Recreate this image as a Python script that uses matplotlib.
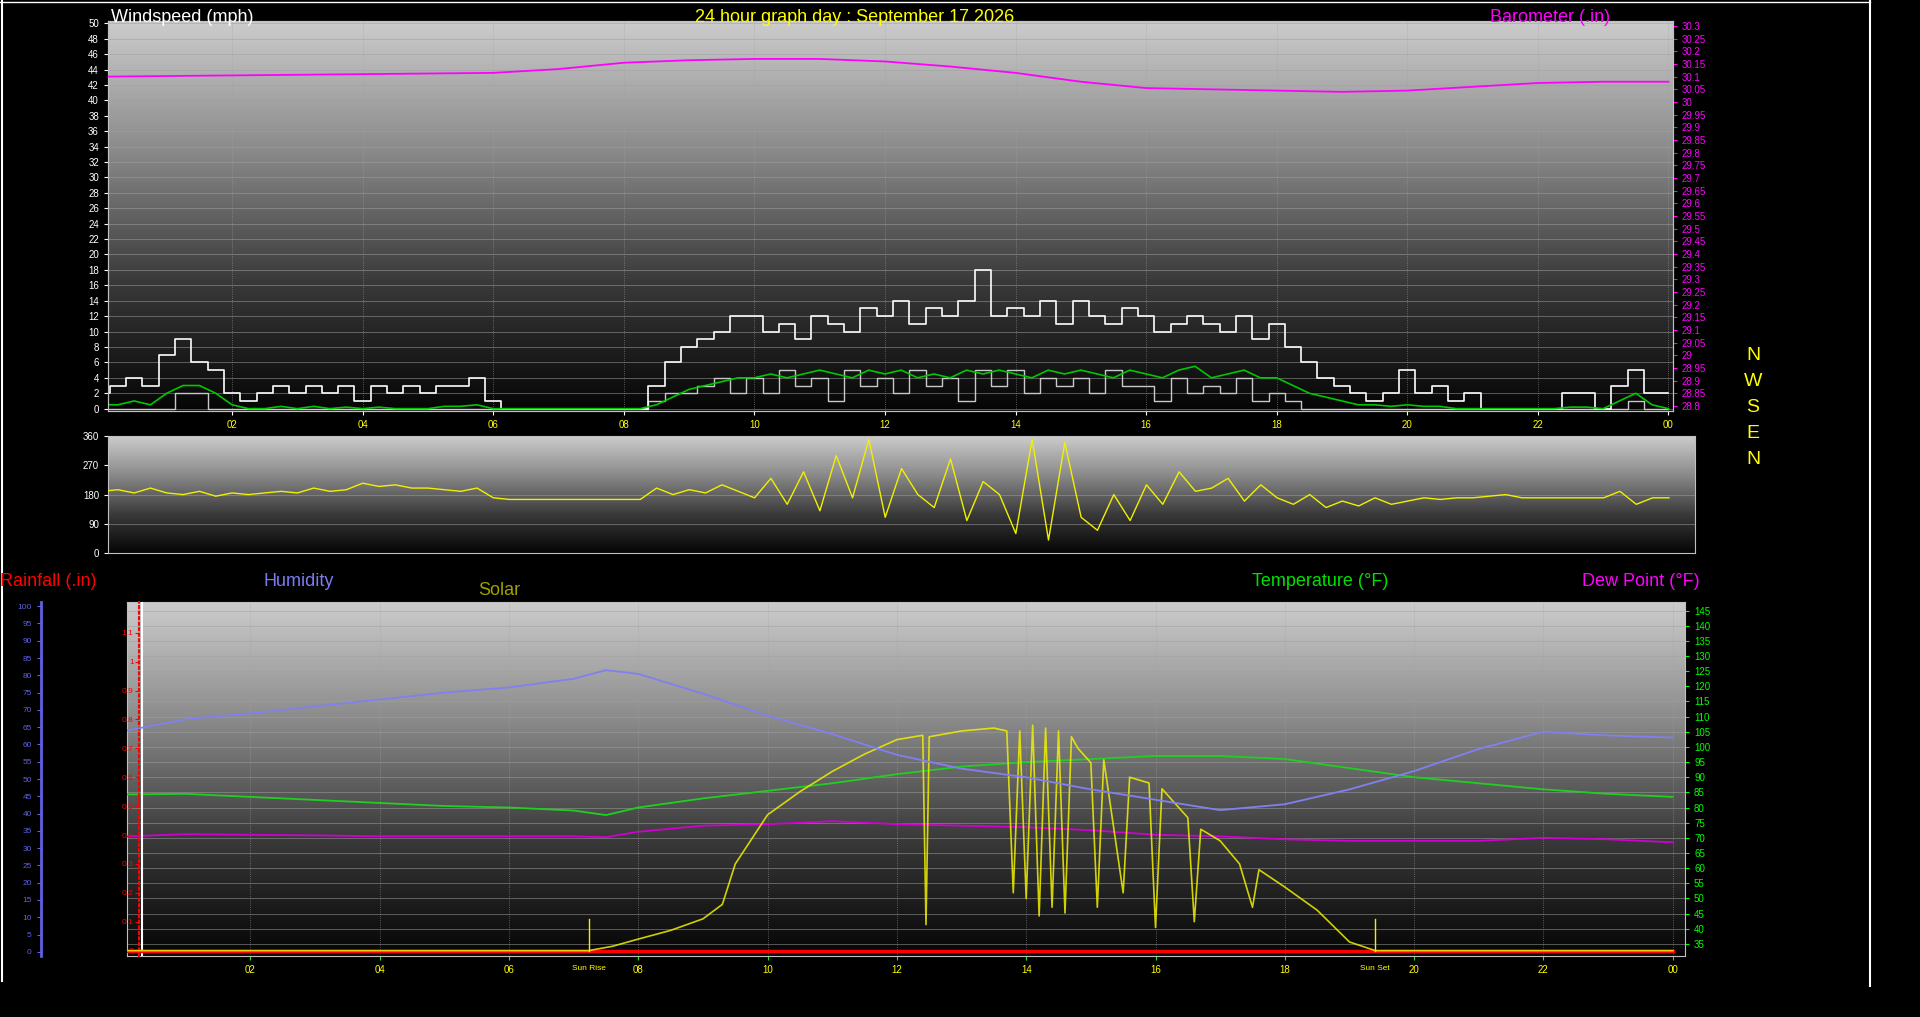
import numpy as np
import matplotlib
matplotlib.use("Agg")
import matplotlib.pyplot as plt
from matplotlib.colors import LinearSegmentedColormap

plt.rcParams['font.family'] = ['Liberation Sans', 'DejaVu Sans']

# ---------------- data ----------------
gust = [2,3,4,3, 7,9,6,5, 2,1,2,3, 2,3,2,3, 1,3,2,3, 2,3,3,4, 1,0,0,0, 0,0,0,0,
        0,0,3,6, 8,9,10,12, 12,10,11,9, 12,11,10,13, 12,14,11,13, 12,14,18,12,
        13,12,14,11, 14,12,11,13, 12,10,11,12, 11,10,12,9, 11,8,6,4, 3,2,1,2,
        5,2,3,1, 2,0,0,0, 0,0,2,2, 0,3,5,2, 2]
wind_avg = [0.5,0.5,1,0.5, 2,3,3,2, 0.5,0,0,0.3, 0,0.3,0,0.2, 0,0.2,0,0, 0,0.3,0.3,0.5,
            0,0,0,0, 0,0,0,0, 0,0,0.5,1.5, 2.5,3,3.5,4, 4,4.5,4,4.5, 5,4.5,4,5,
            4.5,5,4,4.5, 4,5,4.5,5, 4.5,4,5,4.5, 5,4.5,4,5, 4.5,4,5,5.5, 4,4.5,5,4,
            4,3,2,1.5, 1,0.5,0.5,0.3, 0.5,0.3,0.3,0, 0,0,0,0, 0,0,0.2,0.2, 0,1,2,0.5, 0]
wind_low = [0,0,0,0, 0,2,2,0, 0,0,0,0, 0,0,0,0, 0,0,0,0, 0,0,0,0, 0,0,0,0, 0,0,0,0,
            0,0,1,2, 2,3,4,2, 4,2,5,3, 4,1,5,3, 4,2,5,3, 4,1,5,3, 5,2,4,3, 4,2,5,3,
            3,1,4,2, 3,2,4,1, 2,1,0,0, 0,0,0,0, 0,0,0,0, 0,0,0,0, 0,0,0,0, 0,0,1,0, 0]
direction = [190,195,185,200, 185,180,190,175, 185,180,185,190, 185,200,190,195,
             215,205,210,200, 200,195,190,200, 170,165,165,165, 165,165,165,165,
             165,165,200,180, 195,185,210,190, 170,230,150,250, 130,300,170,350,
             110,260,180,140, 290,100,220,180, 60,350,40,340, 110,70,180,100,
             210,150,250,190, 200,230,160,210, 170,150,180,140, 160,145,170,150,
             160,170,165,170, 170,175,180,170, 170,170,170,170, 170,190,150,170, 170]
wind_hours = np.arange(len(gust)) * 0.25

baro_hours = [0, 2, 4, 6, 7, 8, 9, 10, 11, 12, 13, 14, 15, 16, 17, 18, 19, 20, 21, 22, 23, 24]
baro = [30.10, 30.105, 30.11, 30.115, 30.13, 30.155, 30.165, 30.17, 30.17, 30.16, 30.14,
        30.115, 30.08, 30.055, 30.05, 30.045, 30.04, 30.045, 30.06, 30.075, 30.08, 30.08]

hours = [0, 1, 2, 3, 4, 5, 6, 7, 7.5, 8, 9, 10, 11, 12, 13, 14, 15, 16, 17, 18, 19, 20, 21, 22, 23, 24]
temperature = [84.3, 84.5, 83.5, 82.5, 81.5, 80.5, 80, 79, 77.5, 80, 83, 85.5, 88, 91, 93.5,
               95, 96, 97, 97, 96, 93, 90, 88, 86, 84.5, 83.5]
dewpoint = [70.4, 71.2, 71, 70.8, 70.5, 70.5, 70.5, 70.5, 70.2, 72, 74, 74.5, 75.5, 74.5, 74,
            73.5, 72.5, 71, 70.5, 69.5, 69, 69, 69, 70, 69.5, 68.5]
humidity = [63.7, 67.3, 69, 71, 73, 75, 76.5, 79, 81.5, 80.4, 74.7, 68.3, 63, 57, 53, 50.5,
            47, 44, 41, 42.7, 47, 52.3, 58.7, 63.7, 62.6, 62]

solar_hours = [0, 7.23, 7.6, 8, 8.5, 9, 9.3, 9.5, 10, 10.5, 11, 11.5, 12, 12.4, 12.45, 12.5,
               13, 13.5, 13.7, 13.8, 13.9, 14, 14.1, 14.2, 14.3, 14.4, 14.5, 14.6, 14.7,
               14.8, 15, 15.1, 15.2, 15.5, 15.6, 15.9, 16, 16.1, 16.5, 16.6, 16.7, 17,
               17.3, 17.5, 17.6, 18, 18.5, 19, 19.4, 24]
solar = [0, 0, 15, 40, 70, 110, 160, 300, 470, 550, 620, 680, 730, 745, 90, 740,
         760, 770, 760, 200, 760, 180, 780, 120, 770, 150, 760, 130, 740,
         700, 650, 150, 660, 200, 600, 580, 80, 560, 460, 100, 420, 380,
         300, 150, 280, 220, 140, 30, 0, 0]

rain_hours = [0, 24]
rain = [0, 0]

sunrise, sunset = 7.23, 19.4
tick_hours = [2, 4, 6, 8, 10, 12, 14, 16, 18, 20, 22, 24]
tick_labels = ['02', '04', '06', '08', '10', '12', '14', '16', '18', '20', '22', '00']

# ---------------- figure ----------------
fig = plt.figure(figsize=(19.2, 10.17), dpi=100, facecolor='black')
cmap = LinearSegmentedColormap.from_list('bg', ['#050505', '#3a3a3a', '#8a8a8a', '#cccccc'])

def background(ax):
    grad = np.linspace(0, 1, 256).reshape(-1, 1)
    ax.imshow(grad, aspect='auto', cmap=cmap, origin='lower',
              extent=[0, 1, 0, 1], transform=ax.transAxes, zorder=0)
    ax.set_facecolor('black')

def style(ax, tickcolor):
    for s in ax.spines.values():
        s.set_color('#c0c0c0')
    ax.tick_params(colors=tickcolor, labelsize=7, length=3)

# ---- top panel ----
ax1 = fig.add_axes([0.05625, 0.5959, 0.8151, 0.3835])
background(ax1)
ax1.set_xlim(0.1, 24.07)
ax1.set_ylim(-0.3, 50.3)
ax1.set_yticks(range(0, 51, 2))
ax1.set_xticks(tick_hours)
ax1.set_xticklabels(tick_labels)
ax1.grid(True, axis='y', color='#a0a0a0', lw=0.6, alpha=0.6)
ax1.grid(True, axis='x', color='#a0a0a0', lw=0.6, ls=':', alpha=0.7)
ax1.step(wind_hours, wind_low, where='mid', color='#c8c8c8', lw=1, zorder=3)
ax1.step(wind_hours, gust, where='mid', color='white', lw=1.2, zorder=4)
ax1.plot(wind_hours, wind_avg, color='#00c800', lw=1.2, zorder=5)
style(ax1, 'white')
ax1b = ax1.twinx()
ax1.yaxis.tick_left()
for lab in ax1.get_xticklabels():
    lab.set_color('yellow')
ax1b.set_ylim(28.78, 30.32)
bt = np.round(np.arange(28.8, 30.301, 0.05), 2)
ax1b.set_yticks(bt)
ax1b.set_yticklabels([f'{v:g}' for v in bt])
ax1b.plot(baro_hours, baro, color='#ff00ff', lw=1.3, zorder=6)
ax1b.tick_params(colors='#ff00ff', labelsize=7, length=3)
for s in ax1b.spines.values():
    s.set_color('#c0c0c0')

# ---- middle panel ----
ax2 = fig.add_axes([0.05625, 0.4562, 0.8266, 0.115])
background(ax2)
ax2.set_xlim(0.1, 24.4)
ax2.set_ylim(0, 360)
ax2.set_yticks([0, 90, 180, 270, 360])
ax2.set_xticks([])
ax2.grid(True, axis='y', color='#a0a0a0', lw=0.6, alpha=0.6)
ax2.plot(wind_hours, direction, color='#f0f000', lw=1, zorder=3)
style(ax2, 'white')
for i, c in enumerate(['N', 'W', 'S', 'E', 'N']):
    fig.text(0.913, 0.65 - i * 0.0255, c, color='yellow', fontsize=14, ha='center', va='center')

# ---- bottom panel ----
ax3 = fig.add_axes([0.0661, 0.06, 0.8115, 0.348])
background(ax3)
ax3.set_xlim(0.09, 24.19)
ax3.set_ylim(31, 147.8)
ax3.set_xticks(tick_hours)
ax3.set_xticklabels(tick_labels)
ax3.grid(True, axis='y', color='#a0a0a0', lw=0.6, alpha=0.6)
ax3.grid(True, axis='x', color='#a0a0a0', lw=0.6, ls=':', alpha=0.7)
ax3.plot(hours, temperature, color='#20d020', lw=1.3, zorder=5)
ax3.plot(hours, dewpoint, color='#d000d0', lw=1.3, zorder=5)
for h, lab in [(sunrise, 'Sun Rise'), (sunset, 'Sun Set')]:
    ax3.text(h, -0.025, lab, transform=ax3.get_xaxis_transform(), color='yellow',
             fontsize=6, ha='center', va='top')

# rain axis (inner left)
ax4 = ax3.twinx()
ax4.set_ylim(-0.0185, 1.206)
ax4.spines['left'].set_position(('data', 0.28))
ax4.spines['left'].set_color('red')
ax4.spines['left'].set_linestyle(':')
ax4.spines['left'].set_linewidth(1.5)
for k in ('right', 'top', 'bottom'):
    ax4.spines[k].set_visible(False)
rt = np.round(np.arange(0, 1.11, 0.1), 1)
ax4.set_yticks(rt)
ax4.set_yticklabels([f'{v:g}' for v in rt])
ax4.plot(rain_hours, rain, color='red', lw=2.5, zorder=6)
ax4.axvline(0.32, color='white', lw=1.5)

# solar (hidden axis)
ax5 = ax3.twinx()
ax5.set_ylim(-18.5, 1206)
ax5.axis('off')
ax5.plot(solar_hours, solar, color='#f0f000', lw=1.2, alpha=0.85, zorder=7)
for h in (sunrise, sunset):
    ax5.plot([h, h], [0, 110], color='#f0f000', lw=1)

# humidity axis far left
ax6 = ax3.twinx()
ax6.set_ylim(-1.2, 101.2)
ax6.spines['left'].set_position(('outward', 62))
ax6.spines['left'].set_color('#6060e0')
ax6.spines['left'].set_linewidth(2)
for k in ('right', 'top', 'bottom'):
    ax6.spines[k].set_visible(False)
ax6.set_yticks(range(0, 101, 5))
ax6.plot(hours, humidity, color='#8080f0', lw=1.3, zorder=4)

# tick placement after all twins
style(ax3, '#00ff00')
ax3.yaxis.tick_right()
ax3.set_yticks(range(35, 146, 5))
for lab in ax3.get_xticklabels():
    lab.set_color('yellow')
ax4.yaxis.tick_left()
ax4.tick_params(axis='y', colors='red', labelsize=6, length=3, pad=1)
ax6.yaxis.tick_left()
ax6.tick_params(axis='y', colors='#6060e0', labelsize=6, length=3)

# ---- titles ----
fig.text(0.058, 0.991, 'Windspeed (mph)', color='white', fontsize=13, va='top')
fig.text(0.445, 0.991, '24 hour graph day : September 17 2026', color='yellow', fontsize=13, va='top', ha='center')
fig.text(0.776, 0.991, 'Barometer (.in)', color='#ff00ff', fontsize=13, va='top')
fig.text(0.0, 0.437, 'Rainfall (.in)', color='red', fontsize=13, va='top')
fig.text(0.137, 0.437, 'Humidity', color='#7b7bf0', fontsize=13, va='top')
fig.text(0.249, 0.428, 'Solar', color='#a0a000', fontsize=13, va='top')
fig.text(0.652, 0.437, 'Temperature (°F)', color='#00e000', fontsize=13, va='top')
fig.text(0.824, 0.437, 'Dew Point (°F)', color='#ff00ff', fontsize=13, va='top')

# borders
fig.add_artist(plt.Line2D([0.974, 0.974], [0.03, 1.0], color='white', lw=1.5, transform=fig.transFigure))
fig.add_artist(plt.Line2D([0.001, 0.001], [0.035, 1.0], color='white', lw=1.5, transform=fig.transFigure))
fig.add_artist(plt.Line2D([0.0, 0.974], [0.998, 0.998], color='white', lw=1, transform=fig.transFigure))

fig.savefig('out.png', dpi=100, facecolor='black')
